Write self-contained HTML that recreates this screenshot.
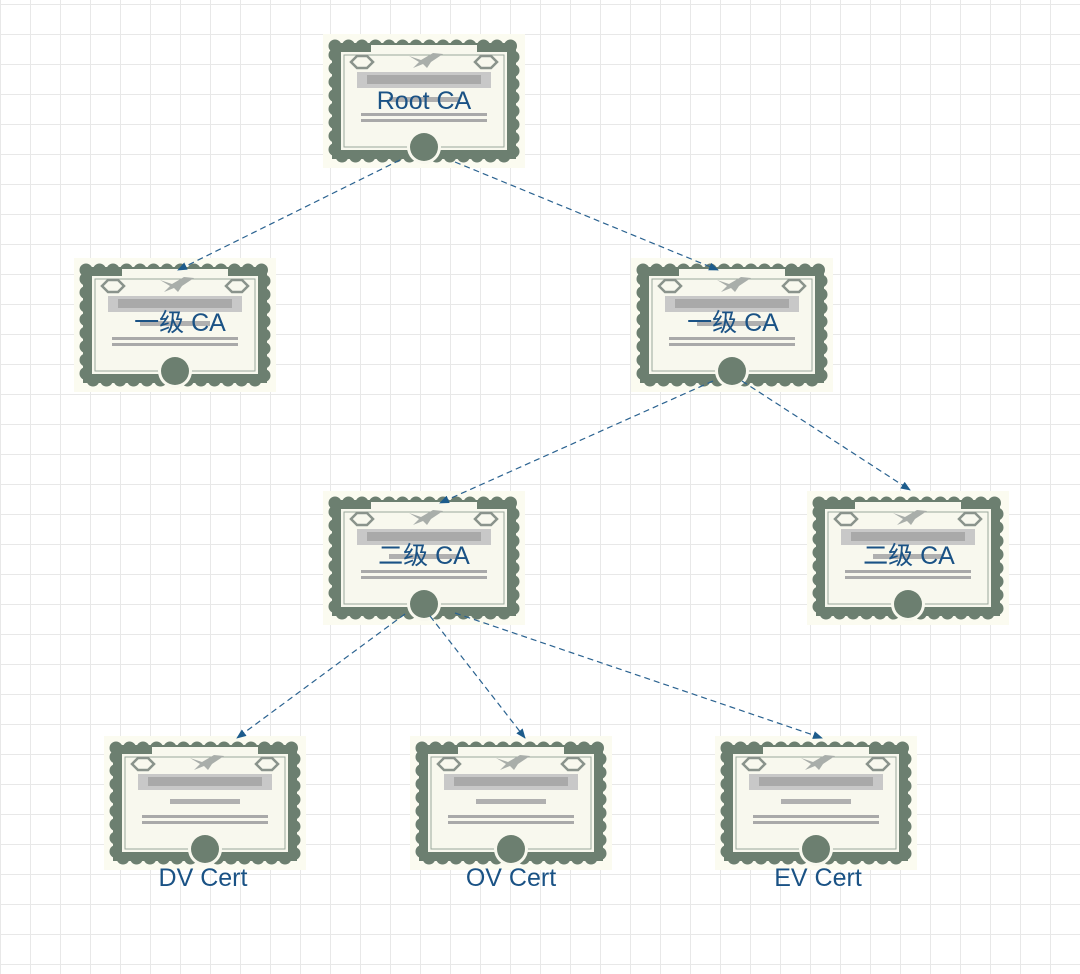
<!DOCTYPE html>
<html><head><meta charset="utf-8"><style>
html,body{margin:0;padding:0;background:#fff}
body{width:1080px;height:974px;overflow:hidden;position:relative;
background-image:linear-gradient(#e8e8e8 1px,transparent 1px),linear-gradient(90deg,#e8e8e8 1px,transparent 1px);
background-size:30px 30px;background-position:0 4px}
svg{position:absolute;left:0;top:0}
text{font-family:"Liberation Sans","Noto Sans CJK SC",sans-serif;fill:#1a5285;font-size:25px;text-anchor:middle}
</style></head><body>
<svg width="1080" height="974" viewBox="0 0 1080 974">
<defs>
<g id="cert">
<rect x="-6" y="-6" width="202" height="134" fill="#fbfbf0"/>
<rect x="6" y="6" width="178" height="110" fill="#6c7f70" stroke="#6c7f70" stroke-width="13" stroke-dasharray="0 13.5" stroke-linecap="round"/>
<rect x="3" y="3" width="184" height="116" fill="#6c7f70"/>
<rect x="12" y="12" width="166" height="98" fill="#f8f8ee"/>
<rect x="42" y="5" width="106" height="10" fill="#f8f8ee"/>
<rect x="15" y="15" width="160" height="92" fill="none" stroke="#9aa79c" stroke-width="1"/>
<path d="M22 22 l6 -6 h10 l6 6 l-6 6 h-10z" fill="none" stroke="#8a938c" stroke-width="2.5"/>
<path d="M146 22 l6 -6 h10 l6 6 l-6 6 h-10z" fill="none" stroke="#8a938c" stroke-width="2.5"/>
<path d="M80 16 l12 4 l12 -7 l10 1 l-12 8 l-4 6 l-4 -4 l-10 4 l6 -6 z" fill="#a9aeaa"/>
<rect x="28" y="32" width="134" height="16" fill="#c8c8c8"/>
<rect x="38" y="35" width="114" height="9" fill="#a9a9a9"/>
<rect x="60" y="57" width="70" height="5" fill="#b0b0b0"/>
<rect x="32" y="73" width="126" height="3" fill="#a9a9a9"/>
<rect x="32" y="79" width="126" height="3" fill="#a9a9a9"/>
<circle cx="95" cy="107" r="17" fill="#f8f8ee"/>
<circle cx="95" cy="107" r="14" fill="#6c7f70"/>
</g>
<marker id="ar" markerWidth="10" markerHeight="8" refX="9" refY="4" orient="auto" markerUnits="userSpaceOnUse"><path d="M0 0 L10 4 L0 8z" fill="#1d5c8c"/></marker>
</defs>
<use href="#cert" x="329" y="40"/>
<use href="#cert" x="80" y="264"/>
<use href="#cert" x="637" y="264"/>
<use href="#cert" x="329" y="497"/>
<use href="#cert" x="813" y="497"/>
<use href="#cert" x="110" y="742"/>
<use href="#cert" x="416" y="742"/>
<use href="#cert" x="721" y="742"/>
<g stroke="#2a6290" stroke-width="1.2" stroke-dasharray="6 4" fill="none" marker-end="url(#ar)">
<path d="M400 160 L178 270"/>
<path d="M455 162 L718 270"/>
<path d="M713 381 L440 503"/>
<path d="M742 381 L910 490"/>
<path d="M405 614 L237 738"/>
<path d="M430 616 L525 738"/>
<path d="M455 613 L822 738"/>
</g>
<text x="424" y="109">Root CA</text>
<text x="180" y="331">一级 CA</text>
<text x="733" y="331">一级 CA</text>
<text x="424" y="564">二级 CA</text>
<text x="909" y="564">二级 CA</text>
<text x="203" y="886">DV Cert</text>
<text x="511" y="886">OV Cert</text>
<text x="818" y="886">EV Cert</text>
</svg>
</body></html>
